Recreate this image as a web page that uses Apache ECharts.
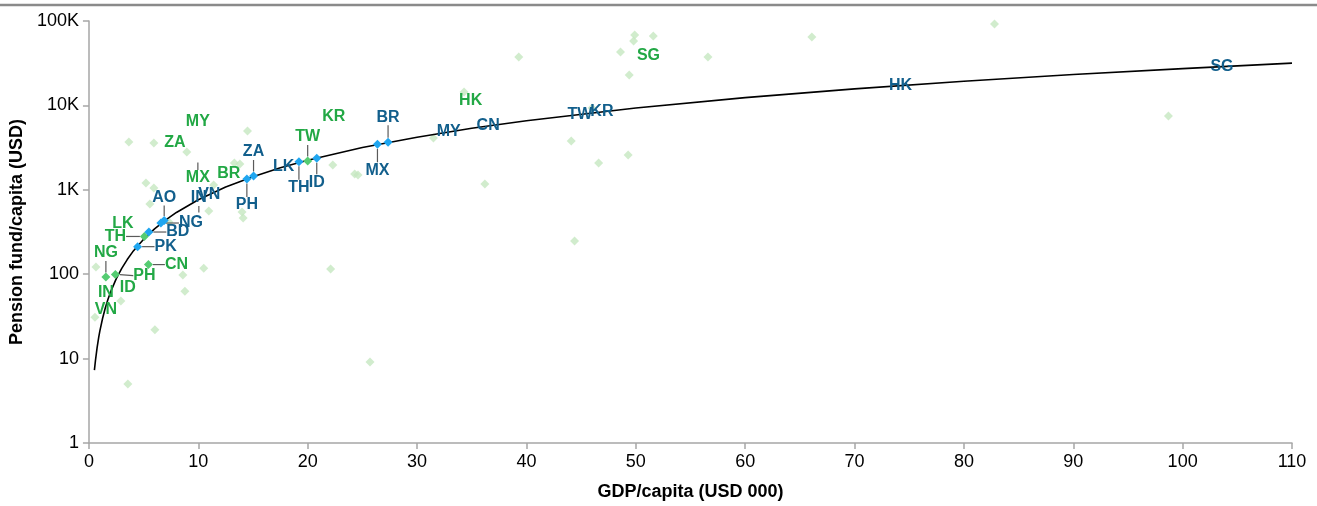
<!DOCTYPE html>
<html>
<head>
<meta charset="utf-8">
<script src="https://cdn.jsdelivr.net/npm/echarts/dist/echarts.min.js"></script>
<style>
  html, body { margin: 0; padding: 0; background: #fff; }
  #chart { width: 1317px; height: 506px; }
</style>
</head>
<body>
<div id="chart"></div>
<script>
// Other economies (light green background cloud): GDP/capita in USD 000, pension fund/capita in USD
const otherGdp = [0.55, 0.64, 2.92, 8.59, 8.77, 6.03, 10.5, 3.56, 22.1, 25.7, 44.4, 31.5, 36.2, 44.1, 46.6,
  49.3, 46.0, 34.3, 39.3, 48.6, 49.9, 49.8, 51.6, 49.4, 56.6, 66.1, 82.8, 98.7, 3.65, 5.94,
  8.95, 14.5, 5.21, 5.94, 5.57, 11.4, 10.96, 13.3, 13.8, 14.0, 14.1, 22.3, 24.3, 24.6, 7.31];
const otherPension = [31, 122, 48, 98, 63, 22, 118, 5, 115, 9.1, 247, 4110, 1170, 3790, 2080,
  2590, 9310, 14400, 37400, 42900, 68200, 57900, 66400, 22900, 37400, 64600, 92100, 7490, 3680, 3590,
  2800, 4970, 1200, 1050, 680, 1140, 560, 2080, 2020, 546, 463, 1970, 1540, 1500, 415];

// Current position of the highlighted economies (green)
const nowCodes   = ['NG', 'IN', 'VN', 'ID', 'PH', 'CN', 'TH', 'LK', 'MX', 'BR', 'ZA', 'MY', 'TW', 'KR', 'HK', 'SG'];
const nowGdp     = [1.55, 1.55, 1.55, 3.56, 2.42, 5.44, 5.07, 3.11, 9.96, 12.79, 7.86, 9.96, 20.0, 22.38, 34.9, 51.16];
const nowPension = [92.7, 59.9, 37.7, 68.6, 99, 130, 280, 393, 2380, 1540, 3590, 6360, 2195, 7290, 11270, 38500];

// Projected position on the trend curve (blue)
const futureCodes   = ['PK', 'BD', 'AO', 'NG', 'IN', 'VN', 'PH', 'ZA', 'LK', 'TH', 'ID', 'MX', 'BR', 'MY', 'CN', 'TW', 'KR', 'HK', 'SG'];
const futureGdp     = [4.45, 5.48, 6.88, 6.58, 10.05, 11.0, 14.44, 15.05, 17.8, 19.2, 20.83, 26.38, 27.35, 32.9, 36.5, 44.9, 46.9, 74.2, 103.6];
const futurePension = [212, 316, 433, 404, 476, 885, 1343, 1457, 1870, 2153, 2361, 3459, 3654, 4850, 5700, 7870, 8420, 17200, 28800];

// Trend curve
const trendGdp     = [0.5, 0.6, 0.75, 0.9, 1, 1.25, 1.5, 1.75, 2, 2.5, 3, 3.5, 4, 5, 6, 7, 8, 10, 12.5, 15, 17.5,
  20, 25, 30, 35, 40, 50, 60, 70, 80, 90, 100, 110];
const trendPension = [7.3, 9.6, 13.6, 18.1, 21.3, 30.1, 40, 50.8, 62.5, 88.5, 117, 149, 184, 260, 345, 438, 539, 763, 1078, 1431, 1820,
  2240, 3170, 4200, 5350, 6580, 9300, 12350, 15700, 19300, 23200, 27300, 31700];

// Axis ticks
const xTicks = [0, 10, 20, 30, 40, 50, 60, 70, 80, 90, 100, 110];
const yTickValues = [1, 10, 100, 1000, 10000, 100000];
const yTickLabels = ['1', '10', '100', '1K', '10K', '100K'];

// Label placement (pixel shift from the point) for labels pulled off their point with a leader line
const nowShift = { NG: [0, -24], PH: [29, 1], CN: [28, 0], TH: [-29, 0], TW: [0, -24], MX: [0, 20] };
const futureShift = { PK: [28, 0], BD: [29, 0], AO: [0, -23], NG: [30, 0], IN: [0, -19], PH: [0, 26], ZA: [0, -24],
  TH: [0, 26], ID: [0, 24], MX: [0, 26], BR: [0, -25] };
// Leader-line points drawn without a visible marker
const nowBare = new Set(['MX']);
const futureBare = new Set(['IN']);

const FONT = "'Liberation Sans Narrow', 'Arial Narrow', 'Liberation Sans', Arial, sans-serif";
const GREEN_TEXT = '#22a845';
const BLUE_TEXT = '#125f8c';
const GREEN_MARK = '#55cc72';
const BLUE_MARK = '#1fa6f0';
const LIGHT_GREEN = '#c5e7c1';
const AXIS_GREY = '#a6a6a6';
const CLEAR = 'rgba(0,0,0,0)';

function buildItems(codes, xs, ys, shifts, bare) {
  return codes.map((c, i) => {
    const moved = !!shifts[c];
    const item = { name: c, value: [xs[i], ys[i]], labelLine: { show: moved } };
    if (!moved || bare.has(c)) item.itemStyle = { color: CLEAR };
    return item;
  });
}

function layoutFor(codes, shifts) {
  return function (p) {
    const s = shifts[codes[p.dataIndex]] || [0, 0];
    return { dx: s[0], dy: s[1] };
  };
}

function labelledSeries(name, codes, xs, ys, shifts, bare, markColor, textColor, z) {
  return {
    name: name,
    type: 'scatter',
    z: z,
    symbol: 'diamond',
    symbolSize: 9,
    itemStyle: { color: markColor, opacity: 1 },
    data: buildItems(codes, xs, ys, shifts, bare),
    label: {
      show: true,
      position: 'inside',
      formatter: '{b}',
      color: textColor,
      opacity: 1,
      textBorderWidth: 0,
      textBorderColor: 'transparent',
      fontFamily: FONT,
      fontWeight: 'bold',
      fontSize: 16
    },
    labelLine: { show: true, lineStyle: { color: '#5a5a5a', width: 1.2 } },
    labelLayout: layoutFor(codes, shifts),
    emphasis: { disabled: true },
    silent: true
  };
}

const chart = echarts.init(document.getElementById('chart'), null, { renderer: 'canvas' });

chart.setOption({
  animation: false,
  backgroundColor: '#fff',
  textStyle: { fontFamily: FONT },
  grid: { left: 88, right: 25, top: 21, bottom: 63, containLabel: false },
  graphic: [{
    type: 'line',
    shape: { x1: 0, y1: 5, x2: 1317, y2: 5 },
    style: { stroke: '#8a8a8a', lineWidth: 2.5 },
    silent: true
  }],
  xAxis: {
    type: 'value',
    min: xTicks[0],
    max: xTicks[xTicks.length - 1],
    interval: 10,
    axisLine: { show: true, onZero: false, lineStyle: { color: AXIS_GREY, width: 1.5 } },
    axisTick: { show: true, length: 6, lineStyle: { color: AXIS_GREY, width: 1.5 } },
    splitLine: { show: false },
    axisLabel: { color: '#000', fontSize: 18, fontFamily: FONT, margin: 10 },
    name: 'GDP/capita (USD 000)',
    nameLocation: 'middle',
    nameGap: 40,
    nameTextStyle: { color: '#000', fontSize: 18, fontWeight: 'bold', fontFamily: FONT }
  },
  yAxis: {
    type: 'log',
    logBase: 10,
    min: yTickValues[0],
    max: yTickValues[yTickValues.length - 1],
    axisLine: { show: true, lineStyle: { color: AXIS_GREY, width: 1.5 } },
    axisTick: { show: true, length: 6, lineStyle: { color: AXIS_GREY, width: 1.5 } },
    minorTick: { show: false },
    splitLine: { show: false },
    axisLabel: {
      color: '#000', fontSize: 18, fontFamily: FONT, margin: 10,
      formatter: function (v) {
        const k = yTickValues.indexOf(Math.round(v));
        return k >= 0 ? yTickLabels[k] : '';
      }
    },
    name: 'Pension fund/capita (USD)',
    nameLocation: 'middle',
    nameGap: 58,
    nameRotate: 90,
    nameTextStyle: { color: '#000', fontSize: 18, fontWeight: 'bold', fontFamily: FONT }
  },
  series: [
    {
      name: 'Other economies',
      type: 'scatter',
      z: 1,
      symbol: 'diamond',
      symbolSize: 9,
      itemStyle: { color: LIGHT_GREEN },
      data: otherGdp.map((x, i) => [x, otherPension[i]]),
      silent: true
    },
    {
      name: 'Trend',
      type: 'line',
      z: 2,
      smooth: false,
      showSymbol: false,
      symbol: 'none',
      lineStyle: { color: '#000', width: 1.6 },
      data: trendGdp.map((x, i) => [x, trendPension[i]]),
      silent: true
    },
    labelledSeries('Current', nowCodes, nowGdp, nowPension, nowShift, nowBare, GREEN_MARK, GREEN_TEXT, 3),
    labelledSeries('Projected', futureCodes, futureGdp, futurePension, futureShift, futureBare, BLUE_MARK, BLUE_TEXT, 4)
  ]
});
</script>
</body>
</html>
